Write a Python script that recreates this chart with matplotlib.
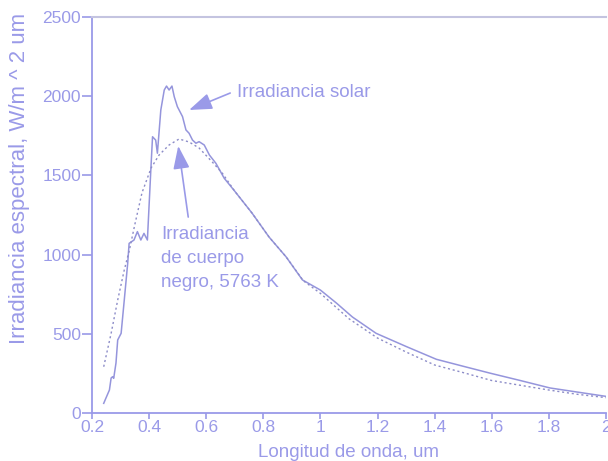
import matplotlib.pyplot as plt

# lavender colours of the original
col = '#9a9ae8'
col_line = '#9595dc'
col_dot = '#8c8cc8'

# solar spectral irradiance
sol_x = [0.241, 0.249, 0.261, 0.267, 0.272, 0.276, 0.284, 0.290, 0.302, 0.313, 0.325,
         0.330, 0.347, 0.359, 0.371, 0.382, 0.394, 0.406, 0.412, 0.423, 0.429, 0.441,
         0.453, 0.461, 0.470, 0.480, 0.488, 0.499, 0.517, 0.529, 0.540, 0.552, 0.564,
         0.575, 0.593, 0.611, 0.634, 0.663, 0.700, 0.760, 0.820, 0.880, 0.937, 1.000,
         1.056, 1.112, 1.195, 1.300, 1.406, 1.500, 1.593, 1.700, 1.804, 1.900, 2.000]
sol_y = [61, 95, 145, 221, 229, 219, 316, 461, 503, 713, 945,
         1071, 1092, 1145, 1092, 1134, 1092, 1534, 1744, 1723, 1640, 1913,
         2039, 2064, 2039, 2064, 1997, 1934, 1871, 1787, 1766, 1723, 1703,
         1713, 1692, 1629, 1576, 1482, 1400, 1263, 1111, 985, 840, 776,
         694, 606, 503, 420, 339, 295, 252, 205, 158, 132, 105]

# black body 5763 K, dotted
bb_x = [0.241, 0.267, 0.290, 0.313, 0.331, 0.350, 0.375, 0.407, 0.435, 0.470, 0.505,
        0.540, 0.575, 0.621, 0.656, 0.700, 0.760, 0.820, 0.880, 0.940, 1.000, 1.100,
        1.200, 1.300, 1.400, 1.500, 1.600, 1.700, 1.800, 1.900, 2.000]
bb_y = [292, 503, 713, 903, 1029, 1190, 1390, 1547, 1629, 1692, 1730,
        1711, 1673, 1585, 1515, 1400, 1263, 1111, 985, 835, 755, 595,
        473, 385, 303, 255, 205, 175, 145, 118, 97]

xticks = [0.2, 0.4, 0.6, 0.8, 1, 1.2, 1.4, 1.6, 1.8, 2]
xlabels = ['0.2', '0.4', '0.6', '0.8', '1', '1.2', '1.4', '1.6', '1.8', '2']
yticks = [0, 500, 1000, 1500, 2000, 2500]

plt.rcParams['font.family'] = ['Liberation Sans', 'DejaVu Sans']

fig = plt.figure(figsize=(6.08, 4.61), dpi=100)
ax = fig.add_axes([92 / 608, 48 / 461, 514 / 608, 396 / 461])

ax.plot(sol_x, sol_y, color=col_line, lw=1.1)
ax.plot(bb_x, bb_y, color=col_dot, lw=1.0, linestyle=(0, (1.5, 2)))

ax.set_xlim(0.2, 2)
ax.set_ylim(0, 2500)
ax.set_xticks(xticks)
ax.set_xticklabels(xlabels)
ax.set_yticks(yticks)

for s in ['left', 'bottom']:
    ax.spines[s].set_color(col)
    ax.spines[s].set_linewidth(1.3)
ax.spines['top'].set_color('#c4c4e0')
ax.spines['top'].set_linewidth(1.5)
ax.spines['right'].set_visible(False)

ax.tick_params(axis='x', colors=col, labelsize=12.5, length=4, width=1.2, pad=1)
ax.tick_params(axis='y', colors=col, labelsize=12.5, length=7, width=1.2, pad=1)

ax.set_xlabel('Longitud de onda, um', color=col, fontsize=13.5)
ax.xaxis.set_label_coords(0.5, -0.078)
ax.set_ylabel('Irradiancia espectral, W/m ^ 2 um', color=col, fontsize=16)
ax.yaxis.set_label_coords(-0.12, 0.593)

arrow = dict(arrowstyle='-|>,head_length=1.4,head_width=0.5', color=col, lw=1.2,
             shrinkA=0, shrinkB=0)
ax.annotate('', xy=(0.540, 1913), xytext=(0.684, 2020), arrowprops=arrow)
ax.text(0.709, 2026, 'Irradiancia solar', color=col, fontsize=13.5, va='center')

ax.annotate('', xy=(0.502, 1686), xytext=(0.537, 1237), arrowprops=arrow)
ax.text(0.442, 1180, 'Irradiancia\nde cuerpo\nnegro, 5763 K', color=col,
        fontsize=13.5, va='top', linespacing=1.55)

fig.savefig('out.png', dpi=100)
